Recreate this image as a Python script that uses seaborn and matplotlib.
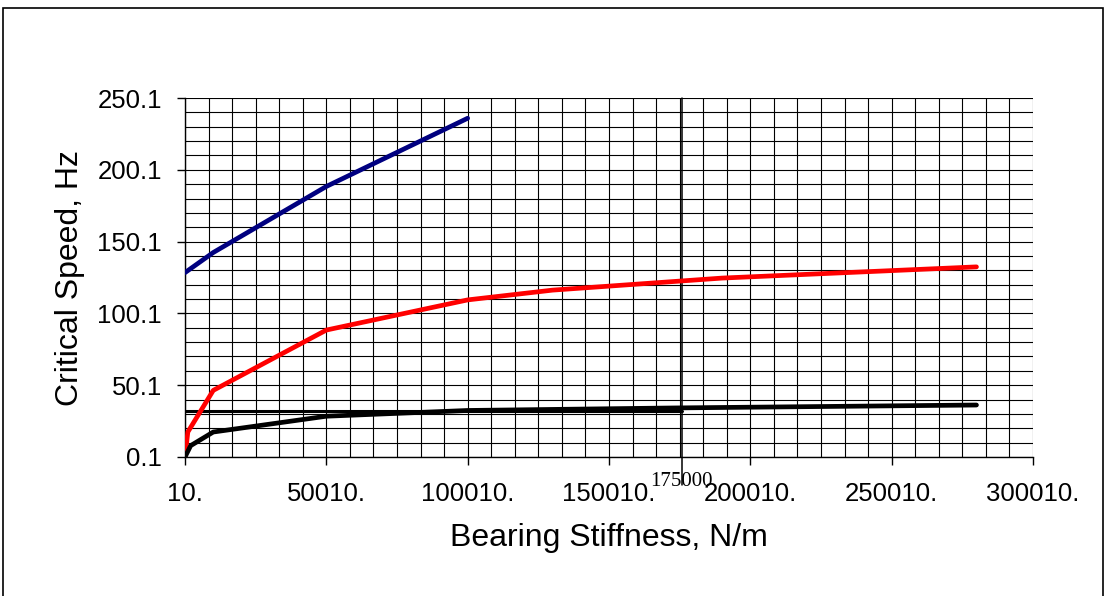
import matplotlib
matplotlib.use("Agg")
import matplotlib.pyplot as plt
import matplotlib.transforms as mtransforms
import numpy as np
import pandas as pd
import seaborn as sns
from matplotlib.patches import Rectangle
from matplotlib.ticker import FixedLocator, MultipleLocator

# series
blue_x = [10, 10010, 50010, 100010]
blue_y = [128.5, 142.5, 188.5, 236.0]

red_x = [10, 1010, 10010, 50010, 100010, 130010, 190010, 280010]
red_y = [0.1, 17.5, 46.5, 88.5, 109.5, 116.3, 124.7, 132.5]

black_x = [10, 2010, 10010, 50010, 100010, 175010, 280010]
black_y = [0.1, 8.0, 17.5, 28.5, 32.5, 34.3, 36.3]

# reference lines
hline_y = 32.1
hline_x = [10, 176000]
vline_x = 176000
vline_label = "175000"

x_ticks = [10, 50010, 100010, 150010, 200010, 250010, 300010]
y_ticks = [0.1, 50.1, 100.1, 150.1, 200.1, 250.1]

sns.set_style("white")
plt.rcParams["font.family"] = ["Liberation Sans", "DejaVu Sans"]
plt.rcParams["text.color"] = "black"
plt.rcParams["axes.labelcolor"] = "black"
plt.rcParams["xtick.color"] = "black"
plt.rcParams["ytick.color"] = "black"

fig = plt.figure(figsize=(11.05, 5.96), dpi=100)
ax = fig.add_axes([185 / 1105, 1 - 457 / 596, 848 / 1105, 359 / 596])

blue = pd.DataFrame({"x": blue_x, "y": blue_y})
red = pd.DataFrame({"x": red_x, "y": red_y})
black = pd.DataFrame({"x": black_x, "y": black_y})

sns.lineplot(ax=ax, data=blue, x="x", y="y", color="#000080", lw=3.4, sort=False, zorder=4)
sns.lineplot(ax=ax, data=red, x="x", y="y", color="#ff0000", lw=3.4, sort=False, zorder=4)
sns.lineplot(ax=ax, data=black, x="x", y="y", color="black", lw=3.4, sort=False, zorder=4)

ax.plot(hline_x, [hline_y, hline_y], color="black", lw=2.2, zorder=3)

# vertical marker runs a bit below the axis, down to its label
trans = mtransforms.blended_transform_factory(ax.transData, ax.transAxes)
ax.plot([vline_x, vline_x], [-28 / 359, 1], color="black", lw=1.1, zorder=3,
        clip_on=False, transform=trans)
ax.annotate(vline_label, xy=(vline_x, 0), xycoords=trans, xytext=(-1, -18),
            textcoords="offset points", family=["Liberation Serif", "DejaVu Serif"],
            fontsize=15, ha="center", va="center", zorder=5)

ax.set_xlim(10, 300010)
ax.set_ylim(0.1, 250.1)
ax.xaxis.set_major_locator(FixedLocator(x_ticks))
ax.yaxis.set_major_locator(FixedLocator(y_ticks))
ax.xaxis.set_minor_locator(FixedLocator(np.arange(10, 300011, 50000 / 6)))
ax.yaxis.set_minor_locator(MultipleLocator(10, offset=0.1))
ax.set_xticklabels([f"{int(t)}." for t in x_ticks])
ax.set_yticklabels([f"{t:.1f}" for t in y_ticks])

ax.grid(which="both", color="black", lw=0.8)
ax.set_axisbelow(True)
ax.tick_params(which="major", direction="out", length=6, width=1, color="black",
               labelsize=18.5, bottom=True, left=True)
ax.tick_params(axis="x", which="major", pad=12)
ax.tick_params(axis="y", which="major", pad=10.5)
ax.tick_params(which="minor", length=0)
for side in ["top", "right"]:
    ax.spines[side].set_visible(False)
for side in ["left", "bottom"]:
    ax.spines[side].set_color("black")
    ax.spines[side].set_linewidth(1)

ax.set_xlabel("Bearing Stiffness, N/m", fontsize=23, labelpad=12)
ax.set_ylabel("Critical Speed, Hz", fontsize=23, labelpad=9)

# outer chart frame
fig.patches.append(Rectangle((3 / 1105, -0.05), 1100 / 1105, 1.05 - 8 / 596,
                             transform=fig.transFigure, fill=False,
                             edgecolor="black", lw=1.2))

fig.savefig("out.png", dpi=100)
